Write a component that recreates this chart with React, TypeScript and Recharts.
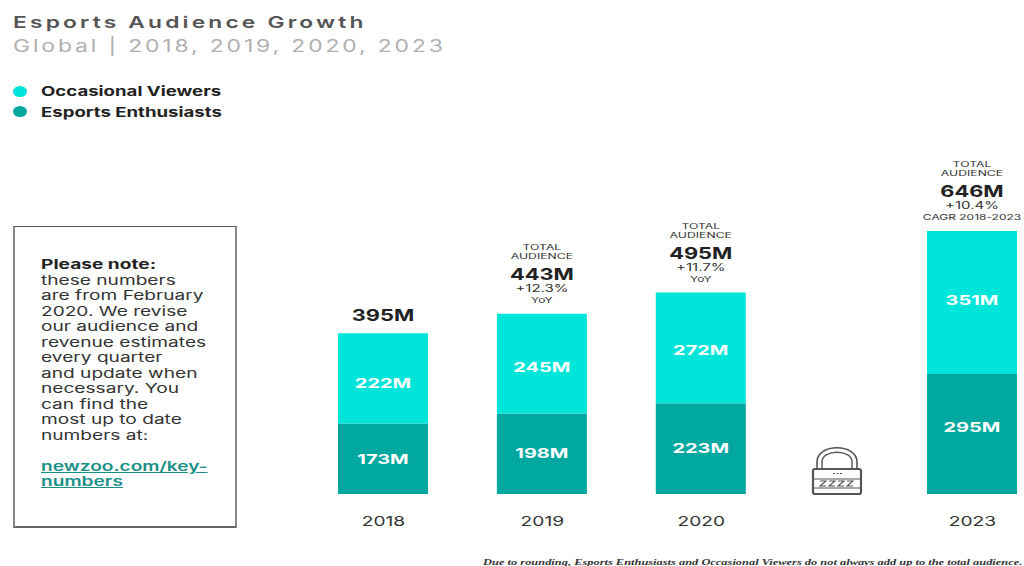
import React from "react";
import { BarChart, Bar, XAxis, YAxis, LabelList, Legend } from "recharts";

const years = ["2018", "2019", "2020", "2023"];
const enthusiasts = [173, 198, 223, 295];
const occasional = [222, 245, 272, 351];
const totals = [395, 443, 495, 646];
const growth = ["", "+12.3%", "+11.7%", "+10.4%"];
const growthNotes = ["", "YoY", "YoY", "CAGR 2018-2023"];

// 2021 and 2022 are skipped, so the last column sits further along the axis
const columnSlots = [0, 1, 2, 3.707];

// the segment labels are not quite centred in their bars
const enthusiastLabelShift = [0, -1, -1, -7];
const occasionalLabelShift = [5, 3, 2, -3];

const LIGHT = "#00e5da";
const DARK = "#00a8a0";
const FONT = "Inter, 'Noto Sans', sans-serif";

const chartData = years.map((year, i) => ({
  slot: columnSlots[i],
  year,
  enthusiasts: enthusiasts[i],
  occasional: occasional[i],
  total: totals[i],
}));

const formatM = (v: any) => `${v}M`;

// centred svg text, widened to get the extended look of the brand typeface
function WideText({ x, y, stretch, children, ...rest }: any) {
  return (
    <text
      transform={`translate(${x} ${y}) scale(${stretch} 1)`}
      textAnchor="middle"
      fontFamily={FONT}
      fill="#333"
      {...rest}
    >
      {children}
    </text>
  );
}

function TotalLabel(props: any) {
  const { x, width, y, index } = props;
  const cx = x + width / 2;

  // the first year only gets the plain figure
  if (!growth[index]) {
    return (
      <WideText x={cx} y={y - 12} stretch={1.32} fontSize={16.5} fontWeight={700} fill="#222">
        {formatM(totals[index])}
      </WideText>
    );
  }
  return (
    <g>
      <WideText x={cx} y={y - 64} stretch={1.75} fontSize={7}>TOTAL</WideText>
      <WideText x={cx} y={y - 55} stretch={1.75} fontSize={7}>AUDIENCE</WideText>
      <WideText x={cx} y={y - 34} stretch={1.32} fontSize={16.5} fontWeight={700} fill="#222">
        {formatM(totals[index])}
      </WideText>
      <WideText x={cx} y={y - 22} stretch={1.5} fontSize={10}>{growth[index]}</WideText>
      <WideText x={cx} y={y - 11} stretch={1.6} fontSize={7.5}>{growthNotes[index]}</WideText>
    </g>
  );
}

function SegmentLabel(props: any) {
  const { x, y, width, height, value, index, shifts } = props;
  return (
    <WideText x={x + width / 2} y={y + height / 2 + 5 + shifts[index]} stretch={1.48} fontSize={13.5} fontWeight={700} fill="#fff">
      {formatM(value)}
    </WideText>
  );
}

function YearTick(props: any) {
  const { x, y, index } = props;
  return (
    <WideText x={x} y={y + 11} stretch={1.42} fontSize={13.5}>
      {years[index]}
    </WideText>
  );
}

function LegendList({ payload }: any) {
  return (
    <div>
      {[...(payload || [])].reverse().map((item: any) => (
        <div key={item.value} style={{ display: "flex", alignItems: "center", height: 20.5 }}>
          <span
            style={{
              width: 14,
              height: 11,
              borderRadius: "50%",
              background: item.color,
              marginRight: 14,
            }}
          />
          <span
            style={{
              fontFamily: FONT,
              fontSize: 13,
              fontWeight: 700,
              color: "#222",
              whiteSpace: "nowrap",
              transform: "scaleX(1.43)",
              transformOrigin: "left center",
            }}
          >
            {item.value}
          </span>
        </div>
      ))}
    </div>
  );
}

function Padlock() {
  return (
    <svg
      width={56}
      height={50}
      viewBox="0 0 56 50"
      style={{ position: "absolute", left: 809, top: 446 }}
      fill="none"
      stroke="#555"
    >
      <path d="M8 23 V16 C8 -3 48 -3 48 16 V23" strokeWidth={1.6} />
      <path d="M13 23 V16 C13 3 43 3 43 16 V23" strokeWidth={1.4} />
      <rect x={4} y={23} width={48} height={25} rx={2} strokeWidth={2.2} />
      <path d="M5 33 H51 M5 42 H51" strokeWidth={1} />
      <path d="M24 27.5 H26 M27.5 27.5 H29.5 M31 27.5 H33" strokeWidth={1.2} />
      <path d="M11 35 H17 L11 40 H17 M20 35 H26 L20 40 H26 M29 35 H35 L29 40 H35 M38 35 H44 L38 40 H44" strokeWidth={1.1} />
    </svg>
  );
}

const noteLines = [
  "these numbers",
  "are from February",
  "2020. We revise",
  "our audience and",
  "revenue estimates",
  "every quarter",
  "and update when",
  "necessary. You",
  "can find the",
  "most up to date",
  "numbers at:",
];

export default function App() {
  return (
    <div style={{ position: "absolute", left: 0, top: 0, width: 1024, height: 566, background: "#fff", overflow: "hidden" }}>
      <div style={{ position: "absolute", left: 13, top: 12, fontFamily: FONT, fontSize: 16.5, fontWeight: 600, letterSpacing: 2.3, color: "#555", whiteSpace: "nowrap", transform: "scaleX(1.38)", transformOrigin: "left center" }}>
        Esports Audience Growth
      </div>
      <div style={{ position: "absolute", left: 13, top: 36, fontFamily: FONT, fontSize: 17, letterSpacing: 2.1, color: "#b0b0b0", whiteSpace: "nowrap", transform: "scaleX(1.35)", transformOrigin: "left center" }}>
        Global | 2018, 2019, 2020, 2023
      </div>

      <BarChart
        width={1024}
        height={566}
        data={chartData}
        margin={{ top: 87, right: 5, bottom: 42, left: 304 }}
        style={{ position: "absolute", left: 0, top: 0 }}
      >
        <XAxis
          dataKey="slot"
          type="number"
          domain={[-0.5, 4]}
          ticks={columnSlots}
          axisLine={false}
          tickLine={false}
          tickMargin={15}
          interval={0}
          tick={<YearTick />}
        />
        <YAxis hide domain={[0, 1000]} />
        <Legend
          layout="horizontal"
          verticalAlign="middle"
          align="center"
          content={<LegendList />}
          wrapperStyle={{ left: 13, top: 81, width: 300 }}
        />
        <Bar dataKey="enthusiasts" name="Esports Enthusiasts" stackId="a" fill={DARK} barSize={90} isAnimationActive={false}>
          <LabelList dataKey="enthusiasts" content={<SegmentLabel shifts={enthusiastLabelShift} />} />
        </Bar>
        <Bar dataKey="occasional" name="Occasional Viewers" stackId="a" fill={LIGHT} barSize={90} isAnimationActive={false}>
          <LabelList dataKey="occasional" content={<SegmentLabel shifts={occasionalLabelShift} />} />
          <LabelList dataKey="total" content={<TotalLabel />} />
        </Bar>
      </BarChart>

      <Padlock />

      <div
        style={{
          position: "absolute",
          left: 13,
          top: 226,
          width: 224,
          height: 302,
          boxSizing: "border-box",
          borderStyle: "solid",
          borderColor: "#555 #888 #666 #888",
          borderWidth: "1px 2px 2px 2px",
          padding: "30px 0 0 26px",
          fontFamily: FONT,
          fontSize: 13,
          lineHeight: "15.5px",
          color: "#333",
          whiteSpace: "nowrap",
        }}
      >
        <div style={{ transform: "scaleX(1.47)", transformOrigin: "left center" }}>
          <div style={{ fontWeight: 700, color: "#222" }}>Please note:</div>
          {noteLines.map((line) => (
            <div key={line}>{line}</div>
          ))}
          <div style={{ marginTop: 15.5, color: "#1a8f88", textDecoration: "underline", fontWeight: 600 }}>
            newzoo.com/key-
            <br />
            numbers
          </div>
        </div>
      </div>

      <div style={{ position: "absolute", right: 2, top: 557, fontFamily: "'Liberation Serif', serif", fontStyle: "italic", fontWeight: 700, fontSize: 8.5, color: "#333", whiteSpace: "nowrap", transform: "scaleX(1.46)", transformOrigin: "right center" }}>
        Due to rounding, Esports Enthusiasts and Occasional Viewers do not always add up to the total audience.
      </div>
    </div>
  );
}
